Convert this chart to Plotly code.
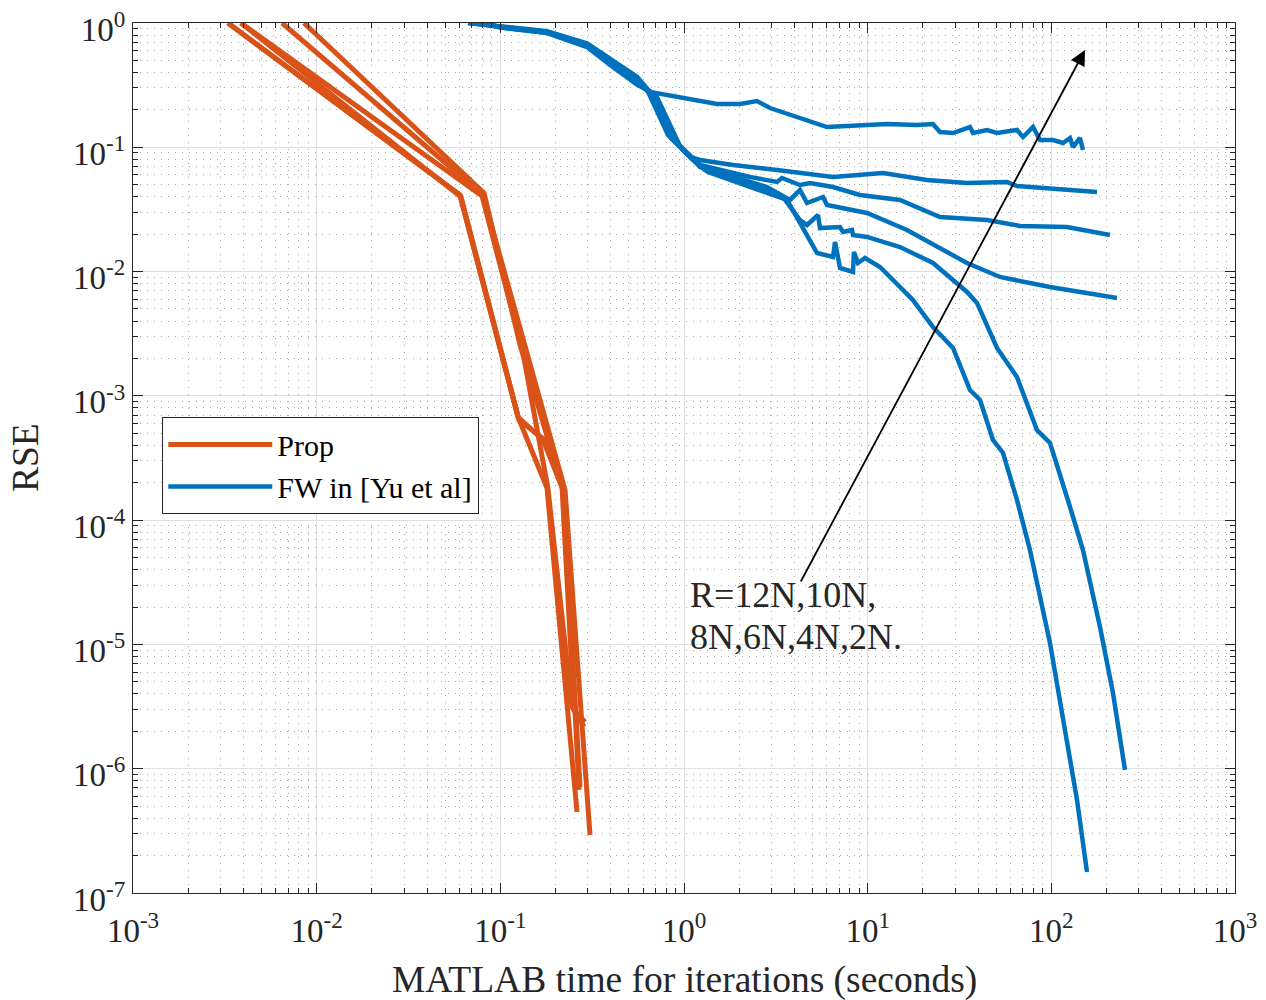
import math
import plotly.graph_objects as go

# ---------------- data ----------------
# Proposed method (6 curves, R = 12N..2N)
prop_x = [
    [0.00329, 0.0603, 0.1248, 0.1795, 0.2615],
    [0.00329, 0.0603, 0.1248, 0.1707, 0.2194, 0.2715],
    [0.00387, 0.0795, 0.1329, 0.1815, 0.2456, 0.2854],
    [0.00648, 0.0804, 0.1397, 0.2250, 0.3078],
    [0.00853, 0.0815, 0.1280, 0.2167, 0.2518, 0.2891],
    [0.00387, 0.0611, 0.1264, 0.1750, 0.2222, 0.2682],
]
prop_y = [
    [1.0, 0.0413, 6.76e-4, 1.815e-4, 4.49e-7],
    [1.0, 0.0413, 6.76e-4, 4.42e-4, 1.75e-4, 7.13e-7],
    [1.0, 0.0406, 2.21e-3, 1.815e-4, 3.14e-6, 2.17e-6],
    [1.0, 0.0413, 2.21e-3, 1.75e-4, 2.93e-7],
    [1.0, 0.0429, 2.57e-3, 1.85e-4, 2.97e-6, 2.38e-6],
    [1.0, 0.0398, 6.4e-4, 4.42e-4, 1.69e-4, 6.75e-7],
]

# FW in [Yu et al] (6 curves, R = 12N, 10N, 8N, 6N, 4N, 2N)
fw_x = [
    [0.0667, 0.0996, 0.1795, 0.2964, 0.3955, 0.5547,
     0.653, 0.988, 1.512, 2.018, 2.497, 2.939, 5.04, 6.006, 12.74, 18.56, 22.68, 24.76, 29.15,
     36.07, 37.46, 44.64, 50.6, 65.0, 70.1, 79.5, 86.8, 102.1, 115.8, 126.4, 131.2, 143.2, 148.7],
    [0.0667, 0.0996, 0.1795, 0.2964, 0.3955, 0.5547,
     0.637, 0.818, 1.078, 1.222, 1.849, 3.209, 6.475, 12.12, 21.04, 34.74, 57.36, 65.0, 98.3,
     121.7, 177.3],
    [0.072, 0.0996, 0.1795, 0.2964, 0.3955, 0.5547,
     0.653, 0.850, 1.105, 1.222, 2.287, 3.209, 3.416, 4.28, 4.853, 6.475, 9.08, 15.0, 24.76,
     44.64, 67.5, 98.3, 121.7, 208.6],
    [0.078, 0.1, 0.1795, 0.2964, 0.3955, 0.5547,
     0.669, 0.882, 1.134, 1.222, 2.831, 3.777, 4.28, 4.674, 5.713, 6.006, 9.92, 16.37, 34.74,
     52.54, 98.3, 227.8],
    [0.082, 0.1, 0.1795, 0.2964, 0.3955, 0.5547,
     0.687, 0.916, 1.177, 1.301, 3.459, 4.28, 4.674, 5.367, 5.5, 7.07, 7.34, 8.22, 8.32, 9.92,
     15.0, 22.68, 34.74, 39.38, 50.6, 65.0, 83.5, 98.3, 126.4, 148.7, 184.1, 216.6, 251.8],
    [0.082, 0.1, 0.1795, 0.2964, 0.3955, 0.5547,
     0.704, 0.951, 1.222, 1.351, 3.637, 4.28, 5.3, 6.475, 6.64, 7.07, 8.32, 8.42, 8.86, 9.67,
     11.67, 15.0, 17.65, 22.68, 29.15, 36.07, 40.9, 48.1, 54.6, 65.0, 76.5, 98.3, 115.8, 138.0,
     156.4],
]
fw_y = [
    [1.0, 0.935, 0.86, 0.685, 0.51, 0.37,
     0.279, 0.249, 0.223, 0.223, 0.2358, 0.207, 0.1598, 0.1456, 0.154, 0.1511, 0.154, 0.1327,
     0.1303, 0.1456, 0.1303, 0.1378, 0.1303, 0.1378, 0.121, 0.1456, 0.1145, 0.1145, 0.1083,
     0.1188, 0.1005, 0.1188, 0.095],
    [1.0, 0.93, 0.85, 0.67, 0.49, 0.35,
     0.279, 0.1256, 0.0835, 0.079, 0.072, 0.0657, 0.0577, 0.0621, 0.0545, 0.0516, 0.0526,
     0.0488, 0.047, 0.0453, 0.0437],
    [1.0, 0.928, 0.845, 0.665, 0.485, 0.345,
     0.279, 0.1188, 0.0805, 0.072, 0.0577, 0.0526, 0.0566, 0.0497, 0.0516, 0.0479, 0.0413,
     0.0377, 0.0275, 0.026, 0.0233, 0.0228, 0.0228, 0.0197],
    [1.0, 0.925, 0.84, 0.655, 0.475, 0.335,
     0.2734, 0.1145, 0.0776, 0.0694, 0.0479, 0.0377, 0.0453, 0.0356, 0.0398, 0.0343, 0.0296,
     0.0216, 0.01172, 0.00905, 0.00751, 0.00613],
    [1.0, 0.922, 0.835, 0.65, 0.47, 0.33,
     0.2684, 0.1083, 0.0747, 0.0657, 0.0398, 0.026, 0.0237, 0.0285, 0.0224, 0.0228, 0.0208,
     0.0216, 0.0197, 0.019, 0.01577, 0.01172, 0.00685, 0.00559, 0.00243, 0.00142, 5.31e-4,
     4.18e-4, 1.276e-4, 5.75e-5, 1.381e-5, 4.07e-6, 9.77e-7],
    [1.0, 0.92, 0.83, 0.64, 0.46, 0.32,
     0.2634, 0.1024, 0.072, 0.0633, 0.0377, 0.0246, 0.0141, 0.0131, 0.0173, 0.01069, 0.00992,
     0.01438, 0.01172, 0.01286, 0.01089, 0.00751, 0.0059, 0.00358, 0.00243, 0.001115, 9.26e-4,
     4.42e-4, 3.47e-4, 1.453e-4, 5.75e-5, 1.027e-5, 2.47e-6, 5.6e-7, 1.476e-7],
]

x_tick_exps = [-3, -2, -1, 0, 1, 2, 3]
y_tick_exps = [-7, -6, -5, -4, -3, -2, -1, 0]

legend_names = ["Prop", "FW in [Yu et al]"]
x_title = "MATLAB time for iterations (seconds)"
y_title = "RSE"
annot_lines = ["R=12N,10N,", "8N,6N,4N,2N."]
annot_line_y = [2.5e-5, 1.148e-5]
annot_x = 1.06
arrow_tail = (4.28, 3.12e-5)
arrow_tip = (152.5, 0.6065)

ORANGE = "#D95319"
BLUE = "#0072BD"
INK = "#262626"
FONT = "Liberation Serif"

fig = go.Figure()

for i, (xs, ys) in enumerate(zip(prop_x, prop_y)):
    fig.add_trace(go.Scatter(x=xs, y=ys, mode="lines",
                             line=dict(color=ORANGE, width=5),
                             name=legend_names[0], legendgroup="prop",
                             showlegend=(i == 0)))

for i, (xs, ys) in enumerate(zip(fw_x, fw_y)):
    fig.add_trace(go.Scatter(x=xs, y=ys, mode="lines",
                             line=dict(color=BLUE, width=4.5),
                             name=legend_names[1], legendgroup="fw",
                             showlegend=(i == 0)))


def sup(e):
    return "10<sup>%d</sup>" % e


def minor_vals(lo, hi):
    vals = []
    for e in range(lo, hi):
        for k in range(2, 10):
            vals.append(k * 10.0 ** e)
    return vals


axis_common = dict(
    type="log", automargin=False, ticklabeloverflow="allow",
    showline=True, linecolor=INK, linewidth=1.3, mirror="allticks",
    ticks="inside", ticklen=10, tickwidth=1.3, tickcolor=INK,
    showgrid=True, gridcolor="#dedede", gridwidth=1,
    zeroline=False,
)

minor_common = dict(tickmode="array", ticks="inside", ticklen=5, tickwidth=1,
                    tickcolor=INK, showgrid=True, gridcolor="#a8a8a8",
                    griddash="1px,6px", gridwidth=1)

fig.update_xaxes(
    **axis_common,
    range=[-3, 3],
    tickmode="array",
    tickvals=[10.0 ** e for e in x_tick_exps],
    ticktext=[sup(e) for e in x_tick_exps],
    tickfont=dict(family=FONT, size=33, color=INK),
    ticklabelstandoff=8,
    minor=dict(tickvals=minor_vals(-3, 3), **minor_common),
)
fig.update_yaxes(
    **axis_common,
    range=[-7, 0],
    tickmode="array",
    tickvals=[10.0 ** e for e in y_tick_exps],
    ticktext=[sup(e) for e in y_tick_exps],
    tickfont=dict(family=FONT, size=33, color=INK),
    ticklabelstandoff=0,
    ticklabelshift=6,
    minor=dict(tickvals=minor_vals(-7, 0), **minor_common),
)

# axis titles
fig.add_annotation(x=0.5, y=-0.1, xref="paper", yref="paper", showarrow=False,
                   xanchor="center", yanchor="middle", text=x_title,
                   font=dict(family=FONT, size=37.5, color=INK))
fig.add_annotation(x=-0.098, y=0.5, xref="paper", yref="paper", showarrow=False,
                   xanchor="center", yanchor="middle", text=y_title, textangle=-90,
                   font=dict(family=FONT, size=37.5, color=INK))

fig.add_annotation(
    x=math.log10(arrow_tip[0]), y=math.log10(arrow_tip[1]),
    ax=math.log10(arrow_tail[0]), ay=math.log10(arrow_tail[1]),
    xref="x", yref="y", axref="x", ayref="y",
    showarrow=True, arrowhead=2, arrowsize=1.7, arrowwidth=1.8, arrowcolor="black",
    text="",
)
for txt, yv in zip(annot_lines, annot_line_y):
    fig.add_annotation(
        x=math.log10(annot_x), y=math.log10(yv),
        xref="x", yref="y", showarrow=False, xanchor="left", yanchor="middle",
        align="left", text=txt, borderpad=0,
        font=dict(family=FONT, size=36, color=INK),
    )

# the page body has an 8px margin, so the figure is sized/placed to compensate
fig.update_layout(
    width=1258, height=992,
    margin=dict(l=125, r=31, t=15, b=107),
    paper_bgcolor="white", plot_bgcolor="white",
    showlegend=True,
    legend=dict(x=0.0263, y=0.547, xanchor="left", yanchor="top",
                bgcolor="white", bordercolor=INK, borderwidth=1.3,
                font=dict(family=FONT, size=30, color="black"),
                itemwidth=104, tracegroupgap=0),
    font=dict(family=FONT),
)

fig.write_html("out.html")
